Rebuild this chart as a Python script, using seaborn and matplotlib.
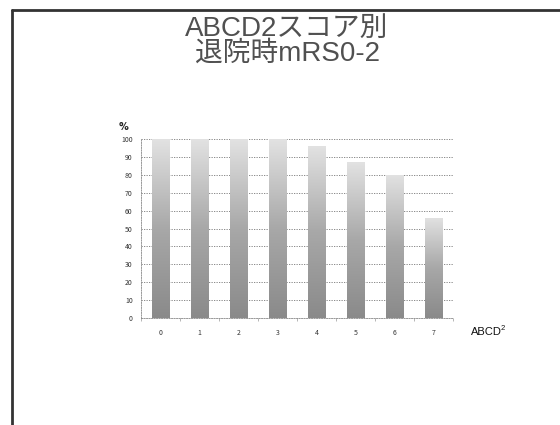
import numpy as np
import pandas as pd
import matplotlib
matplotlib.use("Agg")
import matplotlib.pyplot as plt
from matplotlib.colors import LinearSegmentedColormap
from matplotlib.lines import Line2D
import seaborn as sns

# ABCD2 score vs. share of patients with mRS 0-2 at discharge
scores = ["0", "1", "2", "3", "4", "5", "6", "7"]
pct_mrs02 = [100, 100, 100, 100, 96, 87, 80, 56]
y_ticks = [0, 10, 20, 30, 40, 50, 60, 70, 80, 90, 100]

sns.set_theme(style="white")
plt.rcParams["font.family"] = ["Noto Sans CJK JP", "DejaVu Sans"]

fig = plt.figure(figsize=(5.6, 4.25), dpi=100)

# slide frame
fig.add_artist(Line2D([12 / 560, 1.0], [1 - 10 / 425, 1 - 10 / 425],
                      transform=fig.transFigure, color="#333333", lw=2))
fig.add_artist(Line2D([12 / 560, 12 / 560], [0, 1 - 10 / 425],
                      transform=fig.transFigure, color="#333333", lw=2))

# two-line slide title
fig.text(287 / 560, 1 - 41 / 425, "ABCD2スコア別\n退院時mRS0-2",
         ha="center", va="center", ma="center", fontsize=20, color="#505050",
         linespacing=0.95, family=["Liberation Sans", "Noto Sans CJK JP"])

ax = fig.add_axes([141 / 560, 1 - 318 / 425, 312 / 560, 179 / 425])
df = pd.DataFrame({"score": scores, "pct": pct_mrs02})
sns.barplot(data=df, x="score", y="pct", ax=ax, width=0.44,
            color="#aaaaaa", edgecolor="none", zorder=3)

# vertical grey gradient inside each bar
cmap = LinearSegmentedColormap.from_list("bar", ["#8a8a8a", "#a8a8a8", "#e2e2e2"])
grad = np.linspace(0, 1, 256).reshape(-1, 1)
for patch in ax.patches:
    x0, y0 = patch.get_x(), patch.get_y()
    w, h = patch.get_width(), patch.get_height()
    im = ax.imshow(grad, cmap=cmap, origin="lower", aspect="auto",
                   extent=(x0, x0 + w, y0, y0 + h), zorder=4)
    im.set_clip_path(patch)

ax.set_xlim(-0.5, 7.5)
ax.set_ylim(0, 100)
ax.set_yticks(y_ticks)
ax.set_yticklabels([str(v) for v in y_ticks])
ax.yaxis.grid(True, linestyle=(0, (1.5, 1.5)), color="#777777", lw=0.6, zorder=0)
ax.set_xlabel("")
ax.set_ylabel("")
for side in ["top", "right"]:
    ax.spines[side].set_visible(False)
for side in ["left", "bottom"]:
    ax.spines[side].set_linestyle((0, (1.5, 1.5)))
    ax.spines[side].set_color("#888888")
    ax.spines[side].set_linewidth(0.6)

ax.tick_params(axis="y", labelsize=5, length=0, pad=6, colors="#333333")
ax.tick_params(axis="x", labelsize=5, length=0, pad=8, colors="#333333")
ax.set_xticks(np.arange(-0.5, 8, 1), minor=True)
ax.tick_params(axis="x", which="minor", length=2, color="#999999", width=0.5,
               direction="out", bottom=True)

ax.text(-0.04, 1.04, "%", transform=ax.transAxes, fontsize=7, fontweight="bold",
        ha="right", va="bottom", color="#222222", family="DejaVu Sans")
fig.text(471 / 560, 1 - 332 / 425, "ABCD", ha="left", va="center",
         fontsize=8, color="#111111", family="Liberation Sans")
fig.text(501 / 560, 1 - 328 / 425, "2", ha="left", va="center",
         fontsize=5.5, color="#111111", family="Liberation Sans")

fig.savefig("out.png", dpi=100, facecolor="white")
